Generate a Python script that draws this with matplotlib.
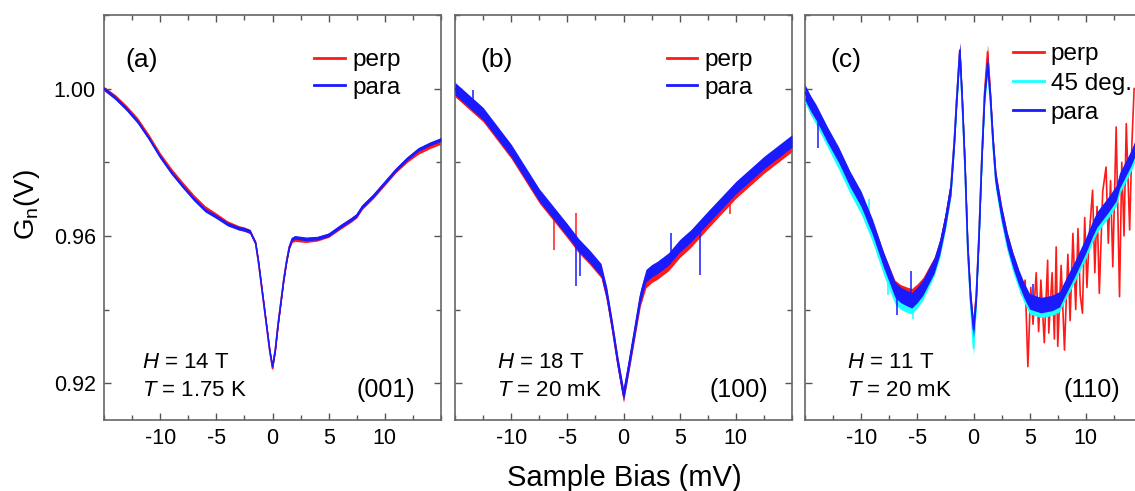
import numpy as np
import matplotlib.pyplot as plt
from matplotlib.ticker import MultipleLocator

plt.rcParams['font.family'] = ['Liberation Sans', 'DejaVu Sans']
plt.rcParams['mathtext.fontset'] = 'custom'
plt.rcParams['mathtext.rm'] = 'Liberation Sans'
plt.rcParams['mathtext.it'] = 'Liberation Sans:italic'

# ---- panel (a): (001), H = 14 T, T = 1.75 K
a_bias = [-15, -14, -13, -12, -11, -10, -9, -8, -7, -6, -5, -4, -3, -2.5, -2, -1.5, -1.25,
          -1, -0.5, -0.25, 0, 0.25, 0.5, 1, 1.25, 1.5, 1.75, 2, 3, 4, 5, 6, 7, 7.5, 8, 9,
          10, 11, 12, 13, 14, 15]
a_para = [1.000, 0.9975, 0.9945, 0.991, 0.9865, 0.9815, 0.9772, 0.9735, 0.970, 0.967, 0.9652,
          0.9632, 0.9621, 0.9618, 0.9612, 0.958, 0.953, 0.947, 0.935, 0.929, 0.9245, 0.929,
          0.936, 0.948, 0.953, 0.957, 0.9592, 0.9596, 0.9592, 0.9594, 0.9603, 0.9625, 0.9645,
          0.9656, 0.968, 0.971, 0.9745, 0.978, 0.981, 0.9835, 0.985, 0.9862]
a_perp = [1.000, 0.9978, 0.9949, 0.9915, 0.987, 0.982, 0.9778, 0.9741, 0.9706, 0.9676, 0.9656,
          0.9635, 0.9622, 0.9618, 0.9612, 0.958, 0.953, 0.947, 0.935, 0.929, 0.9240, 0.929,
          0.936, 0.948, 0.953, 0.957, 0.9588, 0.9591, 0.9588, 0.9592, 0.9602, 0.9623, 0.9643,
          0.9655, 0.9678, 0.9708, 0.9743, 0.9778, 0.9806, 0.9828, 0.9843, 0.9855]

# ---- panel (b): (100), H = 18 T, T = 20 mK
b_bias = [-15, -12.5, -10, -7.5, -5, -4, -3, -2.5, -2, -1.5, -1, -0.5, 0, 0.5, 1, 1.5, 2,
          2.5, 3, 4, 5, 6, 7.5, 10, 12.5, 15]
b_para = [1.000, 0.9932, 0.9832, 0.9711, 0.9616, 0.9576, 0.9544, 0.9526, 0.9508, 0.9445,
          0.9354, 0.9255, 0.9169, 0.9255, 0.9345, 0.9436, 0.9492, 0.9505, 0.9514, 0.9537,
          0.9573, 0.9600, 0.9650, 0.9731, 0.9799, 0.9858]
b_perp = [0.9995, 0.9927, 0.9827, 0.9706, 0.9611, 0.9571, 0.9539, 0.9521, 0.9503, 0.9440,
          0.9350, 0.9252, 0.9165, 0.9250, 0.9338, 0.9426, 0.9476, 0.9490, 0.9499, 0.9522,
          0.9558, 0.9586, 0.9637, 0.9719, 0.9787, 0.9846]
# isolated spikes: (bias, end value)
b_para_spikes = [(-13.4, 0.9995), (-6.0, 0.9655), (-4.2, 0.9463), (-3.9, 0.9490),
                 (4.2, 0.9607), (6.8, 0.9494)]
b_perp_spikes = [(-6.2, 0.9562), (-4.2, 0.9661), (9.5, 0.9660)]

# ---- panel (c): (110), H = 11 T, T = 20 mK
c_bias = [-15, -14.5, -14, -13, -12, -11, -10, -9, -8, -7, -6.5, -6, -5.5, -5, -4.5, -4,
          -3.5, -3, -2.5, -2, -1.7, -1.5, -1.22, -1, -0.75, -0.5, -0.25, 0, 0.25, 0.5, 0.75,
          1, 1.25, 1.5, 1.75, 2, 2.5, 3, 3.5, 4, 4.5, 5, 6, 7, 7.66, 8, 9, 10, 10.6, 11, 12,
          12.7, 13, 14, 14.4]
c_para = [0.999, 0.996, 0.9935, 0.9875, 0.982, 0.9755, 0.970, 0.9625, 0.9535, 0.9455, 0.944,
          0.9432, 0.9425, 0.944, 0.946, 0.949, 0.952, 0.957, 0.9643, 0.9733, 0.986, 0.9968,
          1.0104, 0.9968, 0.9787, 0.9561, 0.9426, 0.9345, 0.9436, 0.9607, 0.9815, 0.9987,
          1.0068, 0.9977, 0.9851, 0.9751, 0.9661, 0.9589, 0.9535, 0.949, 0.9452, 0.9422,
          0.9412, 0.9418, 0.9428, 0.945, 0.951, 0.9575, 0.962, 0.9645, 0.9685, 0.9716, 0.975,
          0.981, 0.984]
c_45deg = [0.998, 0.995, 0.992, 0.986, 0.980, 0.9735, 0.9678, 0.9603, 0.9513, 0.9435, 0.942,
           0.9412, 0.9407, 0.9423, 0.9445, 0.9478, 0.951, 0.956, 0.9635, 0.9728, 0.9855, 0.9962,
           1.0095, 0.9962, 0.9782, 0.9555, 0.9415, 0.9295, 0.9425, 0.9600, 0.9810, 0.9980,
           1.0060, 0.9970, 0.9843, 0.9742, 0.9650, 0.9577, 0.9522, 0.9476, 0.9438, 0.9407,
           0.9397, 0.9403, 0.9413, 0.9435, 0.9494, 0.9558, 0.9603, 0.9628, 0.9668, 0.9700,
           0.9733, 0.9793, 0.9823]
c_perp_left = [0.9985, 0.995, 0.9925, 0.9868, 0.9815, 0.975, 0.9695, 0.962, 0.9535, 0.946,
               0.9448, 0.9442, 0.9437, 0.945, 0.9467, 0.9495, 0.9522, 0.957, 0.9643, 0.9735,
               0.9862, 0.9970, 1.0104, 0.9970, 0.9790, 0.9565, 0.9430, 0.935, 0.9440, 0.9610,
               0.9820, 0.9995, 1.0100, 0.9985, 0.9855, 0.9753, 0.9662, 0.9590, 0.9535, 0.9490]
# noisy perp trace on the positive side, read peak to peak
c_perp_right_bias = [4.0, 4.3, 4.6, 4.84, 5.1, 5.3, 5.58, 5.8, 6.0, 6.3, 6.6, 6.7, 7.0, 7.2,
                     7.36, 7.5, 7.8, 8.1, 8.4, 8.6, 8.85, 9.1, 9.3, 9.5, 9.7, 9.9, 10.1,
                     10.3, 10.6, 10.8, 11.0, 11.2, 11.5, 11.8, 12.0, 12.2, 12.4, 12.7, 13.0,
                     13.2, 13.4, 13.6, 13.9, 14.1, 14.3]
c_perp_right = [0.9490, 0.944, 0.948, 0.9245, 0.946, 0.936, 0.950, 0.934, 0.948, 0.931,
                0.9534, 0.9336, 0.950, 0.932, 0.957, 0.930, 0.952, 0.929, 0.955, 0.937,
                0.9607, 0.940, 0.962, 0.944, 0.939, 0.965, 0.946, 0.960, 0.9724, 0.950,
                0.968, 0.9444, 0.972, 0.9787, 0.958, 0.975, 0.9516, 0.9896, 0.9435, 0.980,
                0.960, 0.9905, 0.9616, 0.985, 1.000]
c_para_spikes = [(-13.8, 0.9840), (-5.6, 0.9505), (-6.8, 0.9385), (5.3, 0.9470)]
c_45_spikes = [(-9.3, 0.9700), (-7.6, 0.9440), (-5.4, 0.9375)]

RED = '#ff1a1a'
CYAN = '#1affff'
BLUE = '#1a1aff'


def trace(ax, x, y, half, color, z, label=None, lw=1.2):
    x = np.asarray(x)
    y = np.asarray(y)
    if half > 0:
        ax.fill_between(x, y - half, y + half, color=color, lw=0, zorder=z)
    ax.plot(x, y, color=color, lw=lw, label=label, zorder=z + 0.1)


def spikes(ax, x, y, pts, color, z):
    for sx, sy in pts:
        ax.vlines(sx, np.interp(sx, x, y), sy, color=color, lw=1.1, zorder=z)


fig = plt.figure(figsize=(11.35, 4.91), dpi=100)
W, H = 1135, 491
bot = (H - 420) / H
hgt = 405 / H
wid = 337 / W
ax_a = fig.add_axes([104 / W, bot, wid, hgt])
ax_b = fig.add_axes([455 / W, bot, wid, hgt])
ax_c = fig.add_axes([805 / W, bot, wid, hgt])

# (a)
trace(ax_a, a_bias, a_perp, 0.0006, RED, 2, 'perp')
trace(ax_a, a_bias, a_para, 0.0005, BLUE, 3, 'para')

# (b)
trace(ax_b, b_bias, b_perp, 0.0017, RED, 2, 'perp')
spikes(ax_b, b_bias, b_perp, b_perp_spikes, RED, 2.2)
trace(ax_b, b_bias, b_para, 0.0017, BLUE, 3, 'para')
spikes(ax_b, b_bias, b_para, b_para_spikes, BLUE, 3.2)

# (c)
trace(ax_c, c_bias[:len(c_perp_left)], c_perp_left, 0.0020, RED, 2, 'perp')
ax_c.plot(c_perp_right_bias, c_perp_right, color=RED, lw=1.2, zorder=2.2)
trace(ax_c, c_bias, c_45deg, 0.0019, CYAN, 3, '45 deg.')
spikes(ax_c, c_bias, c_45deg, c_45_spikes, CYAN, 3.2)
trace(ax_c, c_bias, c_para, 0.0021, BLUE, 4, 'para')
spikes(ax_c, c_bias, c_para, c_para_spikes, BLUE, 4.2)

for ax in (ax_a, ax_b, ax_c):
    ax.set_xlim(-15, 15)
    ax.set_ylim(0.91, 1.02)
    ax.set_xticks([-10, -5, 0, 5, 10])
    ax.set_xticklabels(['-10', '-5', '0', '5', '10'])
    ax.xaxis.set_minor_locator(MultipleLocator(2.5))
    ax.set_yticks([0.92, 0.96, 1.00])
    ax.yaxis.set_minor_locator(MultipleLocator(0.02))
    ax.tick_params(which='both', direction='in', top=True, right=True,
                   labelsize=15.5, color='#555555', pad=6)
    ax.tick_params(which='major', length=5, width=1)
    ax.tick_params(which='minor', length=3.5, width=1)
    for sp in ax.spines.values():
        sp.set_color('#666666')
        sp.set_linewidth(1.2)

ax_a.set_yticklabels(['0.92', '0.96', '1.00'])
ax_b.set_yticklabels([])
ax_c.set_yticklabels([])

leg_kw = dict(loc='upper right', frameon=False, fontsize=17.5, handlelength=1.25,
              handletextpad=0.3, borderaxespad=0, borderpad=0)
for lh in ax_a.legend(bbox_to_anchor=(0.88, 0.915), labelspacing=0.22, **leg_kw).get_lines():
    lh.set_linewidth(2)
for lh in ax_b.legend(bbox_to_anchor=(0.885, 0.915), labelspacing=0.22, **leg_kw).get_lines():
    lh.set_linewidth(2)
for lh in ax_c.legend(bbox_to_anchor=(0.97, 0.93), labelspacing=0.3, **leg_kw).get_lines():
    lh.set_linewidth(2)

panels = [(ax_a, '(a)', 0.062, '14 T', '1.75 K', '(001)', 0.923),
          (ax_b, '(b)', 0.074, '18 T', '20 mK', '(100)', 0.929),
          (ax_c, '(c)', 0.074, '11 T', '20 mK', '(110)', 0.935)]
for ax, tag, tx, hval, tval, face, fx in panels:
    ax.text(tx, 0.89, tag, transform=ax.transAxes, fontsize=19, va='center', ha='left')
    ax.text(tx + 0.05, 0.141, r'$H$ = ' + hval, transform=ax.transAxes, fontsize=16,
            va='center', ha='left')
    ax.text(tx + 0.05, 0.074, r'$T$ = ' + tval, transform=ax.transAxes, fontsize=16,
            va='center', ha='left')
    ax.text(fx, 0.074, face, transform=ax.transAxes, fontsize=18, va='center', ha='right')

fig.text(27 / W, 1 - 205 / H, r'G$_\mathregular{n}$(V)', rotation=90, fontsize=20,
         va='center', ha='center')
fig.text(624 / W, 1 - 478 / H, 'Sample Bias (mV)', fontsize=21, va='center', ha='center')

fig.savefig('out.png', dpi=100)
